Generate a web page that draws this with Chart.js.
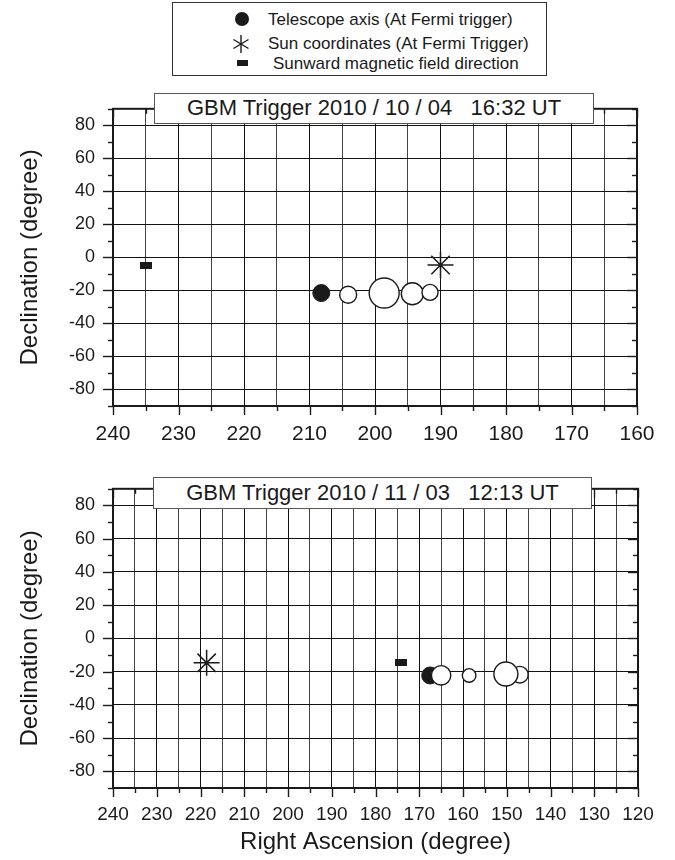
<!DOCTYPE html>
<html>
<head>
<meta charset="utf-8">
<script src="https://cdn.jsdelivr.net/npm/chart.js@4.4.1/dist/chart.umd.min.js"></script>
<style>
html,body{margin:0;padding:0;background:#fff;}
body{width:675px;height:860px;position:relative;overflow:hidden;font-family:"Liberation Sans",Arial,sans-serif;color:#1a1a1a;}
#legend{position:absolute;left:172px;top:2px;width:375px;height:74px;border:1.5px solid #333;box-sizing:border-box;background:#fff;}
.lrow{position:absolute;height:24px;line-height:24px;font-size:17px;white-space:nowrap;}
.lmark{position:absolute;}
.tbox{position:absolute;background:#fff;border:1.5px solid #555;box-sizing:border-box;font-size:22px;text-align:center;white-space:pre;color:#1a1a1a;}
#w1{position:absolute;left:0;top:80px;width:675px;height:370px;}
#w2{position:absolute;left:0;top:460px;width:675px;height:400px;}
</style>
</head>
<body>
<div id="w1"><canvas id="c1" width="675" height="370"></canvas></div>
<div id="w2"><canvas id="c2" width="675" height="400"></canvas></div>

<div id="legend">
  <svg class="lmark" style="left:59px;top:6px" width="20" height="20"><circle cx="10" cy="10" r="7" fill="#1a1a1a"/></svg>
  <div class="lrow" style="left:95px;top:5px">Telescope axis (At Fermi trigger)</div>
  <svg class="lmark" style="left:57px;top:30px" width="22" height="22"><g stroke="#1a1a1a" stroke-width="1.4"><line x1="11" y1="2" x2="11" y2="20"/><line x1="3.5" y1="6.5" x2="18.5" y2="15.5"/><line x1="3.5" y1="15.5" x2="18.5" y2="6.5"/></g></svg>
  <div class="lrow" style="left:95px;top:29px">Sun coordinates (At Fermi Trigger)</div>
  <svg class="lmark" style="left:61px;top:50px" width="20" height="20"><rect x="3" y="7" width="11" height="6" fill="#1a1a1a"/></svg>
  <div class="lrow" style="left:100px;top:49px">Sunward magnetic field direction</div>
</div>

<div class="tbox" style="left:154px;top:93px;width:440px;height:31px;line-height:28px;">GBM Trigger 2010 / 10 / 04   16:32 UT</div>
<div class="tbox" style="left:153px;top:477px;width:439px;height:32px;line-height:29px;">GBM Trigger 2010 / 11 / 03   12:13 UT</div>

<script>
// ---------------- DATA ----------------
// Panel 1: GBM trigger 2010/10/04 16:32 UT
const p1TelescopeRA  = [208.2];
const p1TelescopeDec = [-21.6];
const p1OpenRA       = [204.1, 198.6, 194.3, 191.6];
const p1OpenDec      = [-22.6, -21.6, -22.0, -21.2];
const p1SunRA        = [190.0];
const p1SunDec       = [-4.6];
const p1FieldRA      = [234.9];
const p1FieldDec     = [-5.2];

// Panel 2: GBM trigger 2010/11/03 12:13 UT
const p2TelescopeRA  = [167.5];
const p2TelescopeDec = [-22.3];
const p2OpenRA       = [147.0, 150.2, 158.6, 165.0];
const p2OpenDec      = [-21.8, -21.4, -22.3, -22.2];
const p2SunRA        = [218.6];
const p2SunDec       = [-14.7];
const p2FieldRA      = [174.2];
const p2FieldDec     = [-14.3];

// Tick labels
const decTickLabels  = [-80, -60, -40, -20, 0, 20, 40, 60, 80];
const p1RATickLabels = [240, 230, 220, 210, 200, 190, 180, 170, 160];
const p2RATickLabels = [240, 230, 220, 210, 200, 190, 180, 170, 160, 150, 140, 130, 120];

// ---------------- STYLES ----------------
const p1OpenRadius = [8.5, 15, 11, 8];
const p2OpenRadius = [8.3, 12, 6.8, 9.7];
const INK = '#1a1a1a';
const FONT = "'Liberation Sans', Arial, sans-serif";

Chart.defaults.font.family = FONT;
Chart.defaults.color = INK;

function pts(xs, ys){ return xs.map((v,i)=>({x:v, y:ys[i]})); }

function rectImg(w,h){
  const c=document.createElement('canvas'); c.width=w; c.height=h;
  const g=c.getContext('2d'); g.fillStyle=INK; g.fillRect(0,0,w,h); return c;
}

const framePlugin = {
  id:'frame',
  afterDraw(chart){
    const {ctx, chartArea:a, scales:{x,y}} = chart;
    ctx.save();
    ctx.strokeStyle = INK; ctx.lineWidth = 1.4;
    const ln=(x1,y1,x2,y2)=>{ctx.beginPath();ctx.moveTo(x1,y1);ctx.lineTo(x2,y2);ctx.stroke();};
    x.ticks.forEach(t=>{
      const px = Math.round(x.getPixelForValue(t.value))+0.5;
      const len = (t.value%10===0) ? 9 : 5;
      ln(px, a.bottom, px, a.bottom+len);
      ln(px, a.top, px, a.top+len);
    });
    y.ticks.forEach(t=>{
      const py = Math.round(y.getPixelForValue(t.value))+0.5;
      const len = (t.value%20===0) ? 10 : 5;
      ln(a.left-len, py, a.left, py);
      ln(a.right-len, py, a.right, py);
    });
    ctx.lineWidth = 2;
    ctx.strokeRect(a.left, a.top, a.right-a.left, a.bottom-a.top);
    ctx.restore();
  }
};

function makeChart(id, d){
  const ctx = document.getElementById(id);
  return new Chart(ctx, {
    type:'scatter',
    data:{datasets:[
      {data:pts(d.fieldRA,d.fieldDec), pointStyle:rectImg(12,7), pointRadius:6, order:0},
      {data:pts(d.sunRA,d.sunDec), pointStyle:'star', pointRadius:13, borderColor:INK, borderWidth:1.5, backgroundColor:'transparent', order:0},
      {data:pts(d.openRA,d.openDec), pointStyle:'circle', pointRadius:d.openR, borderColor:INK, borderWidth:1.4, backgroundColor:'#fff', order:1},
      {data:pts(d.telRA,d.telDec), pointStyle:'circle', pointRadius:8.5, borderColor:INK, borderWidth:1, backgroundColor:INK, order:2}
    ]},
    options:{
      responsive:false, animation:false, devicePixelRatio:1,
      layout:{padding:{top:d.padTop, right:d.padRight, left:0, bottom:0}},
      plugins:{legend:{display:false}, tooltip:{enabled:false}},
      scales:{
        x:{
          type:'linear', reverse:true, min:d.xmin, max:240,
          ticks:{stepSize:5, autoSkip:false, maxRotation:0, padding:d.xPad,
            font:{size:d.xFont}, color:INK,
            callback:(v)=> d.raLabels.includes(v) ? String(v) : ''},
          grid:{drawTicks:false, lineWidth:1,
            color:(c)=> (c.tick && c.tick.value%10===0) ? '#111' : '#444'},
          border:{display:true, color:INK, width:2},
          title:{display:d.showXTitle, text:'Right Ascension (degree)', font:{size:24}, color:INK, padding:{top:0,bottom:3}},
          afterFit:(s)=>{ s.height = d.xHeight; }
        },
        y:{
          type:'linear', min:-90, max:90,
          ticks:{stepSize:10, autoSkip:false, padding:18, font:{size:18}, color:INK,
            callback:(v)=> decTickLabels.includes(v) ? String(v) : ''},
          grid:{drawTicks:false, lineWidth:1,
            color:(c)=> (c.tick && c.tick.value%20===0 && Math.abs(c.tick.value)<90) ? '#111' : 'rgba(0,0,0,0)'},
          border:{display:true, color:INK, width:2},
          title:{display:true, text:'Declination (degree)', font:{size:24}, color:INK, padding:{top:16,bottom:0}},
          afterFit:(s)=>{ s.width = 113; }
        }
      }
    },
    plugins:[framePlugin]
  });
}

makeChart('c1', {
  fieldRA:p1FieldRA, fieldDec:p1FieldDec, sunRA:p1SunRA, sunDec:p1SunDec,
  openRA:p1OpenRA, openDec:p1OpenDec, openR:p1OpenRadius,
  telRA:p1TelescopeRA, telDec:p1TelescopeDec,
  xmin:160, raLabels:p1RATickLabels, xFont:21, xPad:16, xHeight:44,
  showXTitle:false, padTop:5, padRight:38
});
makeChart('c2', {
  fieldRA:p2FieldRA, fieldDec:p2FieldDec, sunRA:p2SunRA, sunDec:p2SunDec,
  openRA:p2OpenRA, openDec:p2OpenDec, openR:p2OpenRadius,
  telRA:p2TelescopeRA, telDec:p2TelescopeDec,
  xmin:120, raLabels:p2RATickLabels, xFont:19, xPad:15, xHeight:72,
  showXTitle:true, padTop:7, padRight:37
});
</script>
</body>
</html>
